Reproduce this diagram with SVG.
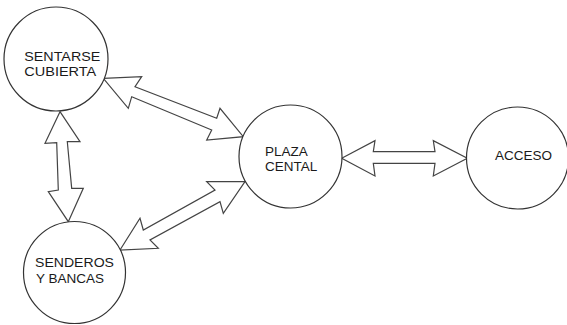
<svg xmlns="http://www.w3.org/2000/svg" width="567" height="325" viewBox="0 0 567 325">
<style>
.node{fill:#fff;stroke:#333;stroke-width:1.2}
.arr{fill:#fff;stroke:#444;stroke-width:1.2;stroke-linejoin:miter}
.lbl{font-family:"Liberation Sans",Arial,sans-serif;font-size:13.5px;fill:#1a1a1a}
.lbl2{font-family:"Liberation Sans",Arial,sans-serif;font-size:13.5px;fill:#1a1a1a}
</style>
<rect width="567" height="325" fill="#fff"/>
<g id="connectors">
<polygon class="arr" points="60,111.7 80,141.7 67.3,141.7 71.7,188.3 83.3,188.3 68.3,221.7 48.3,191.7 58.3,190 56.7,142.7 45,143.3"/>
<polygon class="arr" points="103.3,78.3 141.7,76.7 135,86.7 216.7,118.3 220,108.3 243.3,136.7 206.7,140 211.7,130 131.7,96.7 128.3,108.3"/>
<polygon class="arr" points="120,250 140,218.3 143.3,230 215,190 206.7,181.7 245,181.7 223.3,213.3 220,201.7 150,240 158.3,248.3"/>
<polygon class="arr" points="341.7,158.3 375,140.7 373.3,151.7 435,151.7 433.3,140.7 467.3,158.3 433.3,176 435,163.3 373.3,163.3 375,176"/>
</g>
<g id="sentarse">
<circle class="node" cx="56" cy="59" r="52"/>
<text class="lbl" x="24.3" y="60.5" textLength="76" lengthAdjust="spacingAndGlyphs">SENTARSE</text>
<text class="lbl" x="24.3" y="75.5" textLength="72" lengthAdjust="spacingAndGlyphs">CUBIERTA</text>
</g>
<g id="senderos">
<circle class="node" cx="74.5" cy="272.5" r="51"/>
<text class="lbl" x="35" y="266.7" textLength="79" lengthAdjust="spacingAndGlyphs">SENDEROS</text>
<text class="lbl" x="36" y="282.7">Y BANCAS</text>
</g>
<g id="plaza">
<circle class="node" cx="290.5" cy="156.5" r="51.5"/>
<text class="lbl2" x="265" y="155.7">PLAZA</text>
<text class="lbl2" x="265" y="171">CENTAL</text>
</g>
<g id="acceso">
<circle class="node" cx="517.5" cy="158" r="51"/>
<text class="lbl2" x="495" y="160">ACCESO</text>
</g>
</svg>
